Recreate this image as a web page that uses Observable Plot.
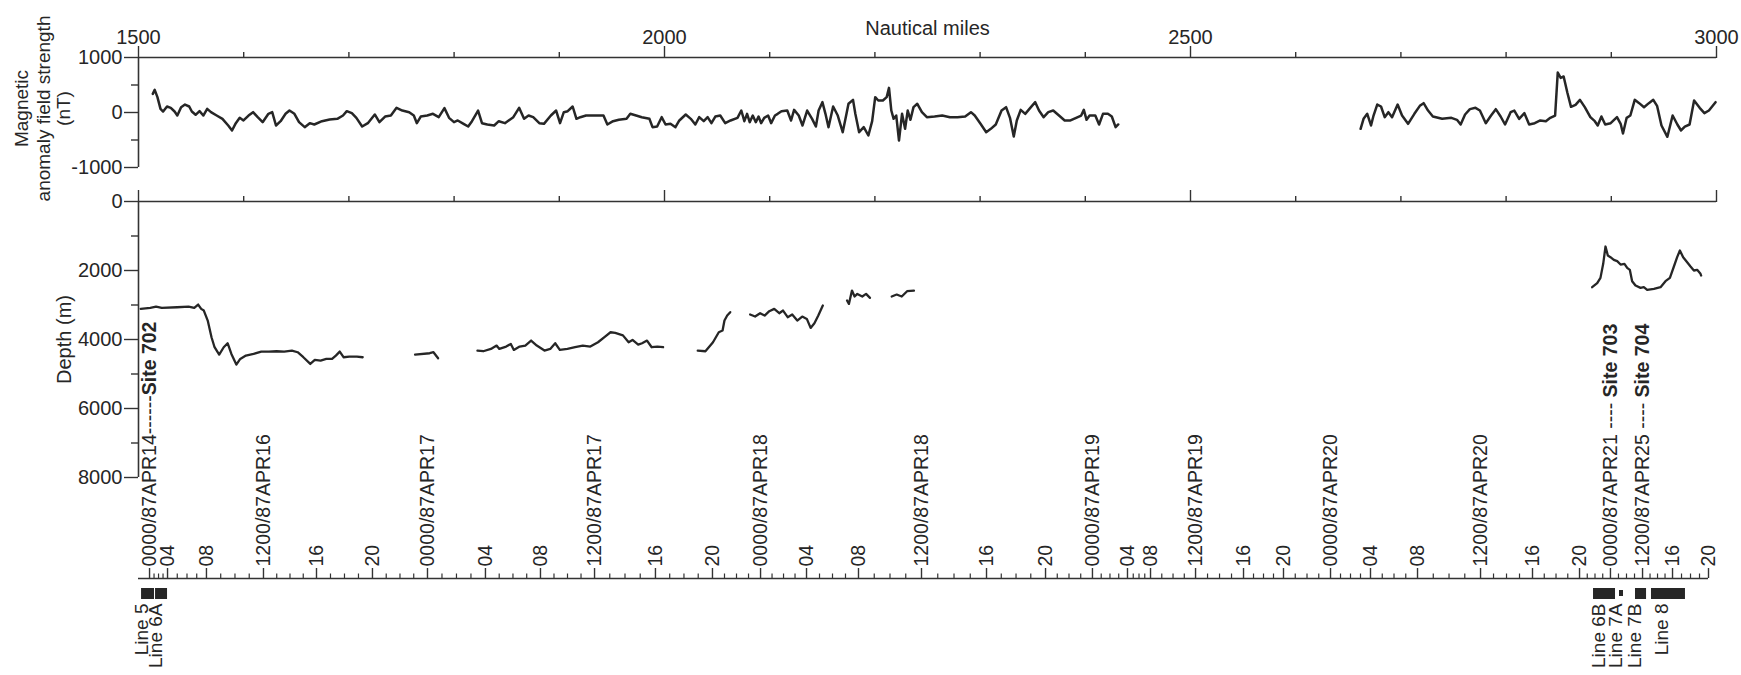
<!DOCTYPE html>
<html><head><meta charset="utf-8">
<script src="https://cdn.jsdelivr.net/npm/d3@7"></script>
<script src="https://cdn.jsdelivr.net/npm/@observablehq/plot@0.6"></script>
<style>
body{margin:0;background:#fff;}
#chart{position:relative;width:1741px;height:675px;background:#fff;}
#chart svg{position:absolute;left:0;top:0;}
</style></head><body><div id="chart"></div>
<script>
// ---------- axes / categories ----------
const nmDomain = [1500, 3000];
const nmMajorTicks = [1500, 2000, 2500, 3000];
const nmMinorTicks = [1600, 1700, 1800, 1900, 2100, 2200, 2300, 2400, 2600, 2700, 2800, 2900];
const magDomain = [-1000, 1000];
const magTicks = [-1000, 0, 1000];
const magMinorTicks = [-500, 500];
const depthDomain = [0, 8000];
const depthTicks = [0, 2000, 4000, 6000, 8000];
const depthMinorTicks = [1000, 3000, 5000, 7000];
const xTitle = "Nautical miles";
const magTitleLines = ["Magnetic", "anomaly field strength", "(nT)"];
const depthTitle = "Depth (m)";

// ---------- magnetic anomaly (nm, nT) ----------
const magSeg1 = [[1513.6,339],[1515.4,412],[1518.0,279],[1520.9,67],[1523.4,18],[1527.1,109],[1530.7,85],[1534.3,18],[1536.9,-55],[1540.5,97],[1544.2,145],[1548.2,109],[1550.7,18],[1554.3,-42],[1558.0,24],[1561.6,-55],[1565.3,67],[1568.9,6],[1574.3,-55],[1579.8,-115],[1585.3,-236],[1588.9,-327],[1592.5,-194],[1596.2,-97],[1599.8,-145],[1604.6,-55],[1608.9,6],[1613.3,-85],[1618.0,-176],[1623.5,-24],[1627.1,6],[1630.7,-236],[1635.1,-158],[1639.8,-24],[1643.5,36],[1648.2,-24],[1652.6,-176],[1658.0,-267],[1662.8,-194],[1667.1,-218],[1674.4,-158],[1681.7,-127],[1689.0,-115],[1694.4,-55],[1698.0,24],[1702.8,-12],[1707.1,-97],[1712.6,-255],[1718.0,-194],[1724.6,-36],[1729.0,-176],[1734.4,-73],[1739.9,-55],[1745.3,85],[1750.8,36],[1757.3,6],[1761.7,-55],[1764.6,-194],[1768.3,-73],[1774.4,-55],[1779.9,-24],[1785.4,-85],[1790.8,79],[1795.2,-97],[1799.9,-176],[1803.5,-145],[1809.0,-206],[1813.4,-255],[1817.0,-158],[1822.8,36],[1826.5,-194],[1831.6,-218],[1838.1,-236],[1842.5,-158],[1848.3,-194],[1856.3,-85],[1861.8,85],[1866.5,-115],[1870.8,-55],[1875.2,-85],[1881.0,-194],[1885.4,-206],[1892.0,-55],[1897.0,36],[1900.7,-194],[1904.3,6],[1908.0,24],[1912.7,109],[1916.3,-115],[1920.0,-85],[1925.4,-55],[1942.0,-55],[1945.7,-218],[1951.1,-158],[1956.6,-133],[1963.9,-115],[1967.5,-24],[1973.0,-55],[1978.4,-85],[1985.7,-115],[1988.6,-267],[1993.0,-255],[1997.3,-85],[2001.0,-218],[2005.7,-206],[2010.4,-267],[2014.1,-145],[2020.2,-36],[2025.0,-115],[2029.3,-218],[2033.0,-85],[2037.3,-158],[2041.0,-85],[2044.6,-194],[2048.3,-73],[2053.0,-55],[2057.7,-194],[2062.8,-145],[2069.4,-97],[2073.0,36],[2075.9,-158],[2078.5,-24],[2081.0,-176],[2083.9,-55],[2086.8,-176],[2089.4,-73],[2091.9,-194],[2094.8,-97],[2098.5,-55],[2101.4,-194],[2105.0,-55],[2107.6,-24],[2111.2,24],[2116.7,36],[2120.3,-145],[2123.2,48],[2127.6,-55],[2131.2,-236],[2135.6,36],[2140.3,-115],[2143.9,-255],[2146.5,36],[2150.1,188],[2153.0,-24],[2155.9,-267],[2160.3,109],[2164.7,-55],[2169.4,-358],[2173.0,-24],[2174.9,158],[2179.2,230],[2181.4,-24],[2185.0,-358],[2189.4,-267],[2193.8,-418],[2197.4,-158],[2200.3,279],[2203.2,218],[2207.6,218],[2211.2,279],[2213.4,448],[2215.6,36],[2217.8,-115],[2220.3,-55],[2222.9,-509],[2225.8,-24],[2228.7,-297],[2231.2,36],[2233.8,-133],[2236.7,97],[2240.3,158],[2244.7,6],[2249.4,-85],[2256.7,-73],[2264.0,-55],[2271.3,-85],[2278.5,-85],[2285.8,-73],[2291.3,6],[2294.9,-55],[2300.4,-206],[2305.8,-358],[2310.2,-297],[2314.9,-218],[2320.4,36],[2324.7,97],[2328.4,-97],[2332.0,-436],[2334.9,-145],[2338.6,48],[2342.9,-24],[2347.7,85],[2352.4,188],[2356.0,36],[2360.4,-85],[2364.8,6],[2369.5,36],[2375.0,-55],[2380.4,-145],[2385.9,-145],[2391.3,-97],[2396.1,-55],[2398.6,48],[2401.2,-133],[2404.1,-55],[2409.5,-55],[2413.1,-218],[2416.8,-24],[2421.5,-24],[2425.2,-73],[2428.8,-267],[2431.3,-218]];
const magSeg2 = [[2661.7,-297],[2664.5,-115],[2668.0,-24],[2671.6,-236],[2674.0,-55],[2677.5,145],[2681.1,109],[2684.6,-85],[2688.1,6],[2691.6,-85],[2696.9,145],[2701.1,-55],[2706.8,-206],[2712.8,-24],[2718.0,121],[2721.6,170],[2725.8,36],[2730.4,-73],[2739.2,-115],[2748.0,-97],[2753.3,-133],[2756.8,-218],[2761.0,-36],[2765.6,61],[2770.9,85],[2775.1,36],[2780.7,-194],[2785.7,-55],[2790.2,61],[2794.8,-73],[2799.0,-218],[2804.3,6],[2807.8,36],[2812.4,-115],[2817.4,-12],[2821.9,-218],[2827.2,-194],[2832.5,-145],[2837.8,-158],[2842.0,-97],[2846.6,-55],[2849.1,727],[2851.9,630],[2854.7,655],[2858.2,364],[2861.7,103],[2866.0,139],[2870.2,230],[2874.8,97],[2880.1,-85],[2884.3,-158],[2887.1,-236],[2890.6,-73],[2894.2,-218],[2899.4,-194],[2905.4,-85],[2908.9,-206],[2911.1,-382],[2914.6,-97],[2918.1,-55],[2922.3,230],[2926.5,170],[2931.1,97],[2935.7,170],[2939.9,230],[2943.5,121],[2947.7,-236],[2953.3,-442],[2958.3,-55],[2962.8,-218],[2966.3,-327],[2969.9,-255],[2974.4,-218],[2978.7,218],[2984.0,85],[2988.5,-12],[2992.8,36],[2999.1,188]];

// ---------- depth (nm, m) ----------
const depthSeg1 = [[1502.1,3113],[1511.2,3084],[1516.7,3045],[1522.1,3084],[1536.7,3065],[1547.6,3045],[1553.0,3084],[1556.7,2987],[1559.6,3113],[1562.1,3161],[1565.8,3451],[1569.4,3934],[1572.3,4224],[1576.7,4437],[1581.0,4224],[1584.7,4108],[1588.3,4418],[1593.0,4727],[1596.7,4563],[1602.1,4466],[1609.4,4418],[1616.7,4350],[1624.0,4350],[1631.2,4340],[1638.5,4350],[1645.8,4321],[1651.3,4369],[1656.7,4514],[1663.3,4708],[1667.6,4592],[1673.1,4611],[1678.5,4563],[1684.0,4563],[1687.6,4466],[1691.3,4350],[1694.9,4514],[1700.4,4495],[1707.6,4495],[1713.1,4514]];
const depthSeg2 = [[1762.9,4437],[1776.8,4398],[1780.4,4369],[1784.8,4543]];
const depthSeg3 = [[1822.2,4321],[1827.7,4340],[1835.0,4273],[1840.4,4176],[1843.0,4273],[1849.5,4205],[1853.9,4128],[1856.8,4302],[1862.3,4205],[1867.7,4176],[1873.2,4031],[1878.6,4176],[1885.9,4321],[1891.4,4273],[1896.1,4108],[1900.5,4302],[1907.7,4273],[1915.0,4224],[1922.3,4176],[1929.5,4205],[1936.8,4080],[1944.1,3900],[1948.7,3790],[1953.2,3810],[1960.5,3880],[1965.9,4079],[1969.6,4012],[1975.0,4147],[1978.7,4108],[1983.4,4031],[1987.8,4224],[1993.2,4205],[1998.7,4224]];
const depthSeg4 = [[2031.6,4321],[2038.9,4340],[2046.1,4079],[2051.6,3789],[2055.2,3741],[2057.0,3451],[2059.6,3306],[2062.5,3209]];
const depthSeg5 = [[2081.4,3277],[2086.1,3335],[2090.9,3238],[2095.2,3306],[2099.6,3180],[2104.3,3113],[2109.1,3238],[2112.7,3161],[2117.1,3354],[2121.4,3277],[2126.2,3451],[2130.9,3335],[2135.3,3403],[2138.9,3664],[2142.5,3528],[2146.2,3306],[2150.5,3016]];
const depthSeg6 = [[2173.5,2871],[2175.3,2968],[2178.2,2581],[2180.7,2755],[2183.3,2678],[2188.0,2755],[2191.6,2678],[2195.3,2793]];
const depthSeg7 = [[2216.0,2755],[2220.7,2697],[2225.5,2755],[2230.6,2600],[2237.1,2581]];
const depthSeg8 = [[2881.8,2484],[2886.6,2368],[2889.7,2213],[2892.3,1807],[2894.5,1305],[2896.7,1566],[2899.2,1614],[2902.4,1692],[2905.6,1730],[2908.8,1827],[2912.5,1807],[2915.1,1923],[2917.6,1981],[2919.8,2310],[2923.0,2436],[2927.8,2503],[2930.9,2484],[2934.1,2561],[2940.5,2532],[2946.8,2484],[2951.5,2310],[2955.7,2213],[2959.5,1884],[2962.6,1614],[2965.2,1421],[2968.3,1614],[2972.1,1759],[2975.3,1884],[2978.5,2000],[2981.6,1981],[2984.8,2097],[2985.4,2146]];

// ---------- ship time axis (labelled ticks, positioned in nautical miles) ----------
const timeTickNm = [1510.5,1527.6,1564.6,1618.8,1669.2,1722.4,1774.7,1829.8,1882.1,1933.5,1991.4,2045.6,2091.3,2135.0,2184.4,2244.3,2306.1,2362.2,2406.8,2440.1,2462.0,2504.8,2550.4,2588.4,2633.1,2671.1,2715.8,2775.7,2825.1,2869.8,2899.2,2929.7,2958.2,2992.4];
const timeTickLabel = ["0000/87APR14------Site 702","04","08","1200/87APR16","16","20","0000/87APR17","04","08","1200/87APR17","16","20","0000/87APR18","04","08","1200/87APR18","16","20","0000/87APR19","04","08","1200/87APR19","16","20","0000/87APR20","04","08","1200/87APR20","16","20","0000/87APR21 ---- Site 703","1200/87APR25 ---- Site 704","16","20"];

// ---------- seismic lines ----------
const lineNames = ["Line 5","Line 6A","Line 6B","Line 7A","Line 7B","Line 8"];
const lineStartNm = [1502.9,1516.2,2883.1,2907.8,2923.0,2938.2];
const lineEndNm = [1515.2,1527.6,2904.0,2911.6,2933.5,2970.5];

// ---------- build tables ----------
const toRows = (segs, key) => segs.flatMap((s, i) => s.map(([nm, v]) => ({nm, [key]: v, seg: i})));
const magRows = toRows([magSeg1, magSeg2], "v");
const depthRows = toRows([depthSeg1, depthSeg2, depthSeg3, depthSeg4, depthSeg5, depthSeg6, depthSeg7, depthSeg8], "d");
const timeRows = timeTickNm.map((nm, i) => ({nm, label: timeTickLabel[i]}));
const minorTimeNm = [];
for (let i = 0; i < timeTickNm.length - 1; i++) {
  const a = timeTickNm[i], b = timeTickNm[i + 1];
  for (let k = 1; k < 4; k++) minorTimeNm.push(a + (b - a) * k / 4);
}
const lineRows = lineNames.map((name, i) => ({name, start: lineStartNm[i], end: lineEndNm[i]}));

// ---------- styling ----------
const W = 1741, H = 675;
const INK = "#262626";
const AX = "#333";
const FONT = "'Liberation Sans', Arial, Helvetica, sans-serif";
const common = {
  width: W, height: H, marginLeft: 138, marginRight: 25,
  x: {domain: nmDomain},
  style: {background: "transparent", fontFamily: FONT, fontSize: "20px", color: INK, overflow: "visible"}
};
const fmt = d => String(d);
const titleDx = [-117, -95, -75];

// Panel A: magnetic anomaly
const plotA = Plot.plot({
  ...common, marginTop: 57, marginBottom: H - 167,
  y: {domain: magDomain},
  marks: [
    Plot.ruleY([magDomain[1]], {stroke: AX, strokeWidth: 1.6}),
    Plot.ruleX([nmDomain[0]], {y1: () => magDomain[0], y2: () => magDomain[1], stroke: AX, strokeWidth: 1.6}),
    Plot.axisX({anchor: "top", ticks: nmMajorTicks, tickSize: 12, tickPadding: 2, tickFormat: fmt, label: null, stroke: AX, strokeWidth: 1.4}),
    Plot.axisX({anchor: "top", ticks: nmMinorTicks, tickSize: 6, tickFormat: () => "", label: null, stroke: AX, strokeWidth: 1.4}),
    Plot.axisY({ticks: magTicks, tickSize: 14, tickPadding: 2, tickFormat: fmt, label: null, stroke: AX, strokeWidth: 1.4}),
    Plot.axisY({ticks: magMinorTicks, tickSize: 7, tickFormat: () => "", label: null, stroke: AX, strokeWidth: 1.4}),
    Plot.text([xTitle], {text: d => d, frameAnchor: "top", dy: -37, fontSize: 20}),
    ...magTitleLines.map((t, i) => Plot.text([t], {text: d => d, frameAnchor: "left", textAnchor: "middle", lineAnchor: "middle", rotate: -90, dx: titleDx[i], dy: -4, fontSize: 19})),
    Plot.line(magRows, {x: "nm", y: "v", z: "seg", stroke: INK, strokeWidth: 2.5})
  ]
});

// Panel B: depth
const plotB = Plot.plot({
  ...common, marginTop: 201, marginBottom: H - 477,
  y: {domain: depthDomain, reverse: true},
  marks: [
    Plot.ruleY([depthDomain[0]], {stroke: AX, strokeWidth: 1.6}),
    Plot.ruleX([nmDomain[0]], {y1: () => depthDomain[0], y2: () => depthDomain[1], stroke: AX, strokeWidth: 1.6}),
    Plot.axisX({anchor: "top", ticks: nmMajorTicks, tickSize: 12, tickFormat: () => "", label: null, stroke: AX, strokeWidth: 1.4}),
    Plot.axisX({anchor: "top", ticks: nmMinorTicks, tickSize: 6, tickFormat: () => "", label: null, stroke: AX, strokeWidth: 1.4}),
    Plot.axisY({ticks: depthTicks, tickSize: 14, tickPadding: 2, tickFormat: fmt, label: null, stroke: AX, strokeWidth: 1.4}),
    Plot.axisY({ticks: depthMinorTicks, tickSize: 7, tickFormat: () => "", label: null, stroke: AX, strokeWidth: 1.4}),
    Plot.text([depthTitle], {text: d => d, frameAnchor: "left", textAnchor: "middle", lineAnchor: "middle", rotate: -90, dx: -74, fontSize: 20}),
    Plot.line(depthRows, {x: "nm", y: "d", z: "seg", stroke: INK, strokeWidth: 2.3})
  ]
});

// Panel C: ship time axis
const plotC = Plot.plot({
  ...common, marginTop: 568, marginBottom: H - 578,
  x: {domain: nmDomain, axis: null},
  y: {domain: [0, 1], axis: null},
  marks: [
    Plot.ruleY([0], {x1: () => nmDomain[0], x2: () => timeTickNm[timeTickNm.length - 1], stroke: AX, strokeWidth: 1.6}),
    Plot.ruleX(timeRows, {x: "nm", y1: () => 0, y2: () => 1, stroke: AX, strokeWidth: 1.4}),
    Plot.ruleX(minorTimeNm, {x: d => d, y1: () => 0, y2: () => 0.45, stroke: AX, strokeWidth: 1.2}),
    Plot.text(timeRows, {x: "nm", y: () => 1, text: "label", rotate: -90, textAnchor: "start", dy: -2, fontSize: 19.5})
  ]
});
// bold site names inside the time labels
plotC.querySelectorAll("text").forEach(t => {
  const s = t.textContent, i = s.indexOf("Site");
  if (i < 0) return;
  t.textContent = "";
  const ns = "http://www.w3.org/2000/svg";
  const a = document.createElementNS(ns, "tspan"); a.textContent = s.slice(0, i);
  const b = document.createElementNS(ns, "tspan"); b.textContent = s.slice(i); b.setAttribute("font-weight", "bold");
  t.append(a, b);
});

// Panel D: seismic line bars
const plotD = Plot.plot({
  ...common, marginTop: 588, marginBottom: H - 599,
  x: {domain: nmDomain, axis: null},
  marks: [
    Plot.rect(lineRows.filter(d => d.name !== "Line 7A"), {x1: "start", x2: "end", fill: INK}),
    Plot.rect(lineRows.filter(d => d.name === "Line 7A"), {x1: "start", x2: "end", fill: INK, insetTop: 2, insetBottom: 3}),
    Plot.text(lineRows, {x: d => (d.start + d.end) / 2, text: "name", frameAnchor: "bottom", rotate: -90, textAnchor: "end", dy: 4, fontSize: 19})
  ]
});

const chart = document.getElementById("chart");
[plotA, plotB, plotC, plotD].forEach(p => chart.append(p));
</script>
</body></html>
